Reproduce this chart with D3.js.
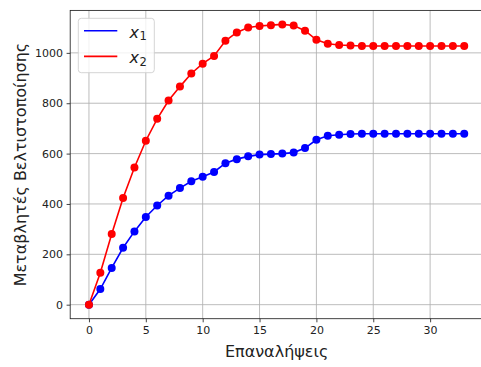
<!DOCTYPE html>
<html>
<head>
<meta charset="utf-8">
<script src="https://cdn.jsdelivr.net/npm/d3@7"></script>
<style>
  html, body { margin: 0; padding: 0; background: #fff; }
  svg { display: block; font-family: "DejaVu Sans", sans-serif; }
</style>
</head>
<body>
<svg id="chart" width="481" height="367"></svg>
<script>
// Iteration index and the two optimisation variables per iteration
const iterations = d3.range(0, 34);
const x1Values = [0, 62, 146, 226, 291, 348, 394, 433, 463, 490, 508, 527, 562, 578, 589, 596,
                  598, 600, 604, 622, 655, 671, 675, 678, 679, 679, 679, 679, 679, 679, 679, 679, 679, 679];
const x2Values = [0, 127, 281, 424, 545, 651, 738, 811, 866, 918, 957, 988, 1048, 1081, 1101, 1107,
                  1110, 1113, 1109, 1088, 1052, 1036, 1031, 1029, 1027, 1027, 1027, 1027, 1027, 1027, 1027, 1027, 1027, 1027];
const xTicks = [0, 5, 10, 15, 20, 25, 30];
const yTicks = [0, 200, 400, 600, 800, 1000];
const seriesNames = ["1", "2"];
const seriesColors = ["#0000ff", "#ff0000"];

const svg = d3.select("#chart");
const plot = { left: 70.2, top: 10.4, right: 483, bottom: 318.7 };

// Axis limits padded by 5% of the data span on each side
const xMin = d3.min(iterations), xMax = d3.max(iterations);
const xPad = (xMax - xMin) * 0.05;
const allY = x1Values.concat(x2Values);
const yMin = d3.min(allY), yMax = d3.max(allY);
const yPad = (yMax - yMin) * 0.05;

const x = d3.scaleLinear().domain([xMin - xPad, xMax + xPad]).range([plot.left, plot.right]);
const y = d3.scaleLinear().domain([yMin - yPad, yMax + yPad]).range([plot.bottom, plot.top]);

// Grid
const grid = svg.append("g").attr("stroke", "#b0b0b0").attr("stroke-width", 0.85);
grid.selectAll(".gx").data(xTicks).join("line")
  .attr("x1", d => x(d)).attr("x2", d => x(d))
  .attr("y1", plot.top).attr("y2", plot.bottom);
grid.selectAll(".gy").data(yTicks).join("line")
  .attr("x1", plot.left).attr("x2", plot.right)
  .attr("y1", d => y(d)).attr("y2", d => y(d));

// Axes
const xAxis = d3.axisBottom(x).tickValues(xTicks).tickSize(3.6).tickPadding(3.5).tickFormat(d3.format("d"));
const yAxis = d3.axisLeft(y).tickValues(yTicks).tickSize(3.6).tickPadding(3.5).tickFormat(d3.format("d"));

const gx = svg.append("g").attr("transform", `translate(0,${plot.bottom})`).call(xAxis);
const gy = svg.append("g").attr("transform", `translate(${plot.left},0)`).call(yAxis);
[gx, gy].forEach(g => {
  g.select(".domain").remove();
  g.selectAll(".tick line").attr("stroke", "#222").attr("stroke-width", 0.85);
  g.selectAll(".tick text").attr("fill", "#222").attr("font-size", 11)
    .attr("font-family", "DejaVu Sans, sans-serif");
});

// Spines
svg.append("rect")
  .attr("x", plot.left).attr("y", plot.top)
  .attr("width", plot.right - plot.left).attr("height", plot.bottom - plot.top)
  .attr("fill", "none").attr("stroke", "#222").attr("stroke-width", 0.85);

// Series
const series = [x1Values, x2Values];
const line = d3.line().x((d, i) => x(iterations[i])).y(d => y(d));
series.forEach((vals, k) => {
  const g = svg.append("g");
  g.append("path").datum(vals).attr("d", line)
    .attr("fill", "none").attr("stroke", seriesColors[k]).attr("stroke-width", 1.6);
  g.selectAll("circle").data(vals).join("circle")
    .attr("cx", (d, i) => x(iterations[i])).attr("cy", d => y(d))
    .attr("r", 4).attr("fill", seriesColors[k]);
});

// Axis titles
svg.append("text")
  .attr("x", (plot.left + plot.right) / 2).attr("y", 357)
  .attr("text-anchor", "middle").attr("font-size", 16).attr("fill", "#222")
  .text("Επαναλήψεις");
svg.append("text")
  .attr("transform", `translate(25.5,${(plot.top + plot.bottom) / 2}) rotate(-90)`)
  .attr("text-anchor", "middle").attr("font-size", 16).attr("fill", "#222")
  .text("Μεταβλητές Βελτιστοποίησης");

// Legend
const legend = svg.append("g");
legend.append("rect")
  .attr("x", 78.3).attr("y", 18.3).attr("width", 76).attr("height", 54.4)
  .attr("rx", 3).attr("fill", "#fff").attr("fill-opacity", 0.8)
  .attr("stroke", "#cccccc").attr("stroke-width", 0.85);
seriesNames.forEach((name, k) => {
  const ly = 30.8 + k * 25.6;
  legend.append("line")
    .attr("x1", 84).attr("x2", 117.3).attr("y1", ly).attr("y2", ly)
    .attr("stroke", seriesColors[k]).attr("stroke-width", 1.6);
  const t = legend.append("text")
    .attr("x", 129.5).attr("y", ly + 6.8).attr("font-size", 16).attr("fill", "#222");
  t.append("tspan").attr("font-style", "italic").text("x");
  t.append("tspan").attr("font-size", 11.5).attr("dx", 0.5).attr("dy", 2.5).text(name);
});
</script>
</body>
</html>
